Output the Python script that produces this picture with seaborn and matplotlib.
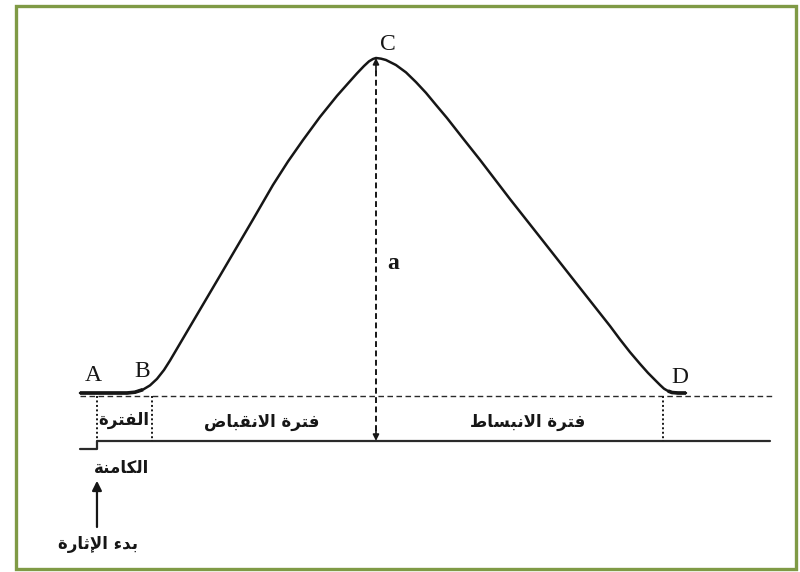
import matplotlib
matplotlib.use("Agg")
import matplotlib.pyplot as plt
from matplotlib.patches import Rectangle
import seaborn as sns
import pandas as pd

# Single muscle twitch: time after the stimulus (ms) and relative tension
time_ms = [-3.05, 5.38, 6.81, 8.24, 9.50, 10.75, 12.01, 13.08, 16.13, 22.04,
           27.96, 31.54, 34.23, 36.92, 39.96, 43.01, 44.98, 46.59, 47.85,
           48.75, 49.46, 50.0, 50.90, 51.79, 53.58, 55.38, 57.17, 58.96,
           60.75, 62.72, 65.59, 68.64, 74.01, 79.93, 86.02, 91.94, 93.73,
           95.52, 97.31, 98.75, 100.0, 100.90, 101.61, 102.33, 103.05,
           104.12, 105.56]
tension = [0.0, 0.0, 0.0024, 0.0101, 0.0227, 0.0421, 0.0687, 0.0967, 0.183,
           0.350, 0.518, 0.621, 0.691, 0.755, 0.824, 0.887, 0.924, 0.954,
           0.976, 0.990, 0.997, 1.0, 0.998, 0.994, 0.979, 0.957, 0.928,
           0.896, 0.860, 0.821, 0.760, 0.696, 0.579, 0.454, 0.325, 0.200,
           0.160, 0.122, 0.087, 0.060, 0.039, 0.024, 0.013, 0.006, 0.0015,
           0.0, 0.0]

# Phase boundaries (ms): stimulus, start of contraction (B), peak (C), end (D)
phase_bounds = [0.0, 9.86, 50.0, 101.4]
record_end = 121.5
trace_end = 120.6

point_labels = ["A", "B", "C", "D"]
phase_labels = ["الفترة", "فترة الانقباض", "فترة الانبساط"]
latent_second_word = "الكامنة"
stimulus_label = "بدء الإثارة"
amplitude_label = "a"

# --- minimal Arabic shaping (presentation forms + right-to-left order) ---
FORMS = {
    'ء': ('\uFE80',),
    'آ': ('\uFE81', '\uFE82'),
    'أ': ('\uFE83', '\uFE84'),
    'إ': ('\uFE87', '\uFE88'),
    'ا': ('\uFE8D', '\uFE8E'),
    'ب': ('\uFE8F', '\uFE90', '\uFE91', '\uFE92'),
    'ة': ('\uFE93', '\uFE94'),
    'ت': ('\uFE95', '\uFE96', '\uFE97', '\uFE98'),
    'ث': ('\uFE99', '\uFE9A', '\uFE9B', '\uFE9C'),
    'د': ('\uFEA9', '\uFEAA'),
    'ر': ('\uFEAD', '\uFEAE'),
    'س': ('\uFEB1', '\uFEB2', '\uFEB3', '\uFEB4'),
    'ض': ('\uFEBD', '\uFEBE', '\uFEBF', '\uFEC0'),
    'ط': ('\uFEC1', '\uFEC2', '\uFEC3', '\uFEC4'),
    'ف': ('\uFED1', '\uFED2', '\uFED3', '\uFED4'),
    'ق': ('\uFED5', '\uFED6', '\uFED7', '\uFED8'),
    'ك': ('\uFED9', '\uFEDA', '\uFEDB', '\uFEDC'),
    'ل': ('\uFEDD', '\uFEDE', '\uFEDF', '\uFEE0'),
    'م': ('\uFEE1', '\uFEE2', '\uFEE3', '\uFEE4'),
    'ن': ('\uFEE5', '\uFEE6', '\uFEE7', '\uFEE8'),
}
LAM_ALEF = {'ا': ('\uFEFB', '\uFEFC'), 'أ': ('\uFEF7', '\uFEF8'),
            'إ': ('\uFEF9', '\uFEFA'), 'آ': ('\uFEF5', '\uFEF6')}


def shape(text):
    units = []
    i = 0
    while i < len(text):
        ch = text[i]
        if ch == 'ل' and i + 1 < len(text) and text[i + 1] in LAM_ALEF:
            units.append(LAM_ALEF[text[i + 1]])
            i += 2
            continue
        units.append(FORMS.get(ch, (ch,)))
        i += 1
    out = []
    for k, f in enumerate(units):
        prev = units[k - 1] if k > 0 else None
        nxt = units[k + 1] if k + 1 < len(units) else None
        jp = prev is not None and len(prev) == 4 and len(f) >= 2
        jn = nxt is not None and len(f) == 4 and len(nxt) >= 2
        if jp and jn:
            g = f[3]
        elif jp:
            g = f[1]
        elif jn:
            g = f[2]
        else:
            g = f[0]
        out.append(g)
    return ''.join(reversed(out))


sns.set_theme(style="white")
ink = "#161616"

fig = plt.figure(figsize=(8, 5.72), dpi=100)
ax = fig.add_axes([0, 0, 1, 1])
ax.set_xlim(-17.38, 125.99)
ax.set_ylim(-0.5343, 1.1731)
ax.axis("off")

df = pd.DataFrame({"time": time_ms, "tension": tension})
sns.lineplot(data=df, x="time", y="tension", ax=ax, color=ink, lw=1.8,
             sort=False, estimator=None)
# heavier resting segments at both ends of the trace
rest_a = df[df.time <= time_ms[3]]
rest_d = df[df.time >= time_ms[-4]]
ax.plot(rest_a.time, rest_a.tension, color=ink, lw=2.6, solid_capstyle="butt")
ax.plot(rest_d.time, rest_d.tension, color=ink, lw=2.6, solid_capstyle="butt")

base_y = -0.009
trace_y = -0.143
step_y = -0.167

# resting level (dashed)
ax.plot([time_ms[0], record_end], [base_y, base_y], color="#2a2a2a", lw=1.0,
        ls=(0, (4, 2.5)))
# time trace with the stimulus step
ax.plot([time_ms[0], phase_bounds[0], phase_bounds[0], trace_end],
        [step_y, step_y, trace_y, trace_y], color="#2a2a2a", lw=1.6)
# phase dividers (dotted)
for tb in [phase_bounds[0], phase_bounds[1], phase_bounds[3]]:
    ax.plot([tb, tb], [base_y, trace_y], color=ink, lw=1.4, ls=(0, (1, 1.3)))

# amplitude arrow from the time trace up to the peak
peak_t = phase_bounds[2]
peak_v = max(tension)
ax.plot([peak_t, peak_t], [trace_y + 0.03, peak_v - 0.03], color=ink, lw=1.4,
        ls=(0, (3, 1.8)))
ax.annotate("", xy=(peak_t, peak_v), xytext=(peak_t, peak_v - 0.04),
            arrowprops=dict(arrowstyle="-|>", color=ink, lw=1.2,
                            mutation_scale=9, shrinkA=0, shrinkB=0))
ax.annotate("", xy=(peak_t, trace_y), xytext=(peak_t, trace_y + 0.04),
            arrowprops=dict(arrowstyle="-|>", color=ink, lw=1.2,
                            mutation_scale=9, shrinkA=0, shrinkB=0))

# stimulus arrow
ax.annotate("", xy=(phase_bounds[0], -0.262), xytext=(phase_bounds[0], -0.40),
            arrowprops=dict(arrowstyle="-|>", color=ink, lw=1.6,
                            mutation_scale=14, shrinkA=0, shrinkB=0))

serif = dict(family="Liberation Serif", color=ink, fontsize=17,
             ha="center", va="center")
ax.text(-0.72, 0.051, point_labels[0], **serif)
ax.text(8.06, 0.063, point_labels[1], **serif)
ax.text(52.15, 1.039, point_labels[2], **serif)
ax.text(104.5, 0.045, point_labels[3], **serif)
ax.text(53.05, 0.388, amplitude_label, family="Liberation Serif", color=ink,
        fontsize=17, fontweight="bold", ha="center", va="center")

arab = dict(family="DejaVu Sans", color=ink, fontsize=12, fontweight="bold",
            ha="center", va="center")
ax.text(4.84, -0.082, shape(phase_labels[0]), **arab)
ax.text(4.48, -0.224, shape(latent_second_word), **arab)
ax.text(29.6, -0.087, shape(phase_labels[1]), **arab)
ax.text(77.1, -0.087, shape(phase_labels[2]), **arab)
ax.text(0.18, -0.452, shape(stimulus_label), **arab)

# green frame
fig.patches.append(Rectangle((15.5 / 800, 3.5 / 572), 780 / 800, 563 / 572,
                             transform=fig.transFigure, fill=False,
                             edgecolor="#7f9a45", lw=2.4, zorder=10))

fig.savefig("out.png", dpi=100)
